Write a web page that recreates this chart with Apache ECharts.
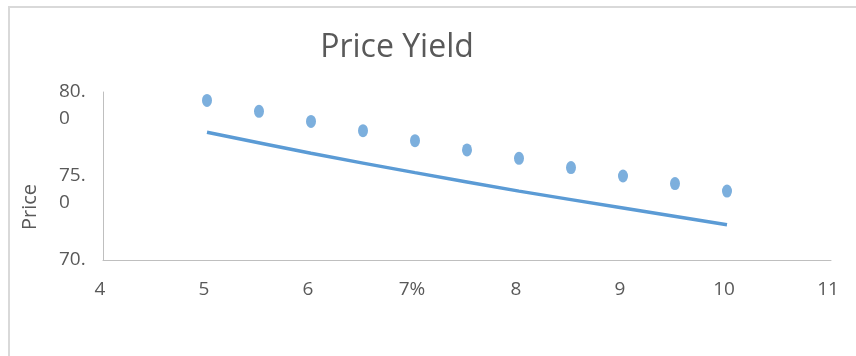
<!DOCTYPE html>
<html>
<head>
<meta charset="utf-8">
<title>Price Yield</title>
<script src="https://cdn.jsdelivr.net/npm/echarts@6/dist/echarts.min.js"></script>
<style>
  html, body { margin: 0; padding: 0; background: #ffffff; overflow: hidden; }
  #frame {
    position: absolute; left: 8px; top: 6px; width: 900px; height: 400px;
    border-top: 2px solid #d9d9d9; border-left: 2px solid #d9d9d9;
  }
  #chart { position: absolute; left: 0; top: 0; width: 856px; height: 356px; }
</style>
</head>
<body>
<div id="frame"></div>
<div id="chart"></div>
<script>
// Yield (%) against bond price
const yieldPoints = [5, 5.5, 6, 6.5, 7, 7.5, 8, 8.5, 9, 9.5, 10];
const priceValues = [79.5, 78.85, 78.25, 77.7, 77.1, 76.55, 76.05, 75.5, 75.0, 74.55, 74.1];

// Second price curve, one value per whole yield step
const curveYields = [5, 6, 7, 8, 9, 10];
const curveValues = [77.6, 76.35, 75.2, 74.1, 73.1, 72.1];

const xTickLabels = { 4: '4', 5: '5', 6: '6', 7: '7%', 8: '8', 9: '9', 10: '10', 11: '11' };

const FONT = '"Liberation Sans Narrow", "Open Sans", sans-serif';
const TEXT = '#595959';
const BLUE = '#5b9bd5';

const chart = echarts.init(document.getElementById('chart'), null, { renderer: 'canvas' });

chart.setOption({
  backgroundColor: 'transparent',
  animation: false,
  title: {
    text: 'Price Yield',
    left: 392,
    top: 27,
    textAlign: 'center',
    textStyle: { fontFamily: FONT, fontSize: 32, fontWeight: 'normal', color: TEXT }
  },
  grid: { left: 103, right: 25, top: 92, bottom: 96 },
  xAxis: {
    type: 'value',
    min: 4,
    max: 11,
    interval: 1,
    axisLine: { show: true, lineStyle: { color: '#bfbfbf', width: 1 } },
    axisTick: { show: false },
    splitLine: { show: false },
    axisLabel: {
      margin: 20,
      padding: [0, 6, 0, 0],
      fontFamily: FONT,
      fontSize: 19,
      color: TEXT,
      formatter: v => xTickLabels[v] || String(v)
    }
  },
  yAxis: {
    type: 'value',
    min: 70,
    max: 80,
    interval: 5,
    name: 'Price',
    nameLocation: 'middle',
    nameGap: 63,
    nameTextStyle: { fontFamily: FONT, fontSize: 20, color: TEXT, padding: [0, 62, 0, 0] },
    axisLine: { show: true, lineStyle: { color: '#bfbfbf', width: 1 } },
    axisTick: { show: false },
    splitLine: { show: false },
    axisLabel: {
      margin: 44,
      align: 'left',
      fontFamily: FONT,
      fontSize: 19,
      lineHeight: 27,
      color: TEXT,
      formatter: v => {
        const parts = v.toFixed(1).split('.');
        return v === 70 ? parts[0] + '.' : '\n' + parts[0] + '.\n' + parts[1];
      }
    }
  },
  series: [
    {
      type: 'line',
      data: curveYields.map((x, i) => [x, curveValues[i]]),
      smooth: 0.3,
      showSymbol: false,
      lineStyle: { color: BLUE, width: 3.5 },
      z: 2
    },
    {
      type: 'scatter',
      data: yieldPoints.map((x, i) => [x, priceValues[i]]),
      symbol: 'circle',
      symbolSize: [10, 13],
      itemStyle: { color: BLUE },
      z: 3
    }
  ]
});
</script>
</body>
</html>
